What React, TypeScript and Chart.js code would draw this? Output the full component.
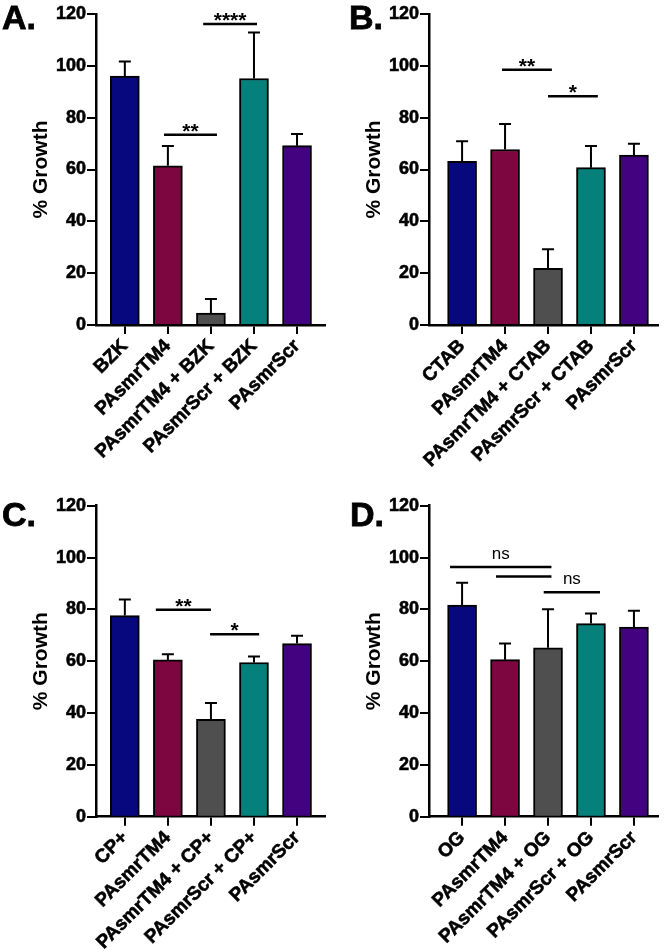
import React, { useEffect, useRef } from 'react';
import { Chart, registerables } from 'chart.js';

Chart.register(...registerables);

const FONT = '"Liberation Sans", Arial, Helvetica, sans-serif';

// ---- data ----
const colors = ['#08087e', '#7e0640', '#4f4f4f', '#06807b', '#43027f'];

const catsA = ['BZK', 'PAsmrTM4', 'PAsmrTM4 + BZK', 'PAsmrScr + BZK', 'PAsmrScr'];
const valsA = [96, 61.4, 4.6, 95.1, 69.2];
const errA = [5.7, 7.7, 5.4, 17.8, 4.5];
const sigA = [
  { from: 0.91, to: 2.14, y: 73.4, label: '**' },
  { from: 1.82, to: 3.07, y: 116.1, label: '****' },
];

const catsB = ['CTAB', 'PAsmrTM4', 'PAsmrTM4 + CTAB', 'PAsmrScr + CTAB', 'PAsmrScr'];
const valsB = [63.2, 67.7, 21.9, 60.7, 65.6];
const errB = [7.7, 9.9, 7.3, 8.4, 4.3];
const sigB = [
  { from: 0.93, to: 2.09, y: 98.5, label: '**' },
  { from: 2.0, to: 3.16, y: 88.3, label: '*' },
];

const catsC = ['CP+', 'PAsmrTM4', 'PAsmrTM4 + CP+', 'PAsmrScr + CP+', 'PAsmrScr'];
const valsC = [77.6, 60.5, 37.6, 59.5, 66.8];
const errC = [6.2, 2.2, 6.3, 2.3, 3.0];
const sigC = [
  { from: 0.72, to: 2.0, y: 79.9, label: '**' },
  { from: 1.98, to: 3.12, y: 70.4, label: '*' },
];

const catsD = ['OG', 'PAsmrTM4', 'PAsmrTM4 + OG', 'PAsmrScr + OG', 'PAsmrScr'];
const valsD = [81.7, 60.6, 65.2, 74.5, 73.2];
const errD = [8.6, 6.2, 14.8, 3.9, 6.3];
const sigD = [
  { from: -0.28, to: 2.08, y: 96.3, label: 'ns' },
  { from: 0.79, to: 2.08, y: 92.7, label: '' },
  { from: 1.9, to: 3.21, y: 86.6, label: 'ns' },
];

const yTicks = [0, 20, 40, 60, 80, 100, 120];

type Sig = { from: number; to: number; y: number; label: string };

type PanelProps = {
  letter: string;
  cats: string[];
  vals: number[];
  errs: number[];
  sigs: Sig[];
  xMin: number;
  xMax: number;
  top: number;
  bottom: number;
  letterX: number;
  letterY: number;
  left: number;
  pageTop: number;
};

const W = 333;
const H = 476;

function Panel(p: PanelProps) {
  const ref = useRef<HTMLCanvasElement>(null);
  useEffect(() => {
    if (!ref.current) return;
    const extras = {
      id: 'extras',
      afterDatasetsDraw(chart: any) {
        const { ctx } = chart;
        const x = chart.scales.x;
        const y = chart.scales.y;
        ctx.save();
        ctx.strokeStyle = '#000';
        ctx.fillStyle = '#000';
        ctx.lineWidth = 2;
        p.vals.forEach((v, i) => {
          const px = x.getPixelForValue(i);
          const y0 = y.getPixelForValue(v);
          const y1 = y.getPixelForValue(v + p.errs[i]);
          ctx.beginPath();
          ctx.moveTo(px, y0);
          ctx.lineTo(px, y1);
          ctx.moveTo(px - 6, y1);
          ctx.lineTo(px + 6, y1);
          ctx.stroke();
        });
        p.sigs.forEach((s) => {
          const x0 = x.getPixelForValue(s.from);
          const x1 = x.getPixelForValue(s.to);
          const py = y.getPixelForValue(s.y);
          ctx.lineWidth = 2.5;
          ctx.beginPath();
          ctx.moveTo(x0, py);
          ctx.lineTo(x1, py);
          ctx.stroke();
          if (s.label) {
            ctx.textAlign = 'center';
            ctx.textBaseline = 'alphabetic';
            if (s.label === 'ns') {
              ctx.font = `17px ${FONT}`;
              ctx.fillText(s.label, (x0 + x1) / 2, py - 8);
            } else {
              ctx.font = `bold 21px ${FONT}`;
              ctx.fillText(s.label, (x0 + x1) / 2, py + 3);
            }
          }
        });
        ctx.font = `bold 34px ${FONT}`;
        ctx.textAlign = 'left';
        ctx.textBaseline = 'alphabetic';
        ctx.lineWidth = 0.8;
        ctx.fillText(p.letter, p.letterX, p.letterY);
        ctx.strokeText(p.letter, p.letterX, p.letterY);
        ctx.restore();
      },
    };

    const yTickFont = { family: FONT, size: 18, weight: 'bold' as const };
    const xTickFont = { family: FONT, size: 19, weight: 'bold' as const };
    const chart = new Chart(ref.current, {
      type: 'bar',
      data: {
        datasets: [
          {
            data: p.vals.map((v, i) => ({ x: i, y: v })),
            backgroundColor: colors,
            borderColor: '#000',
            borderWidth: 2,
            barThickness: 29,
          } as any,
        ],
      },
      options: {
        animation: false,
        responsive: false,
        devicePixelRatio: 1,
        layout: { padding: { top: p.top, right: 8, left: 0, bottom: 0 } },
        plugins: { legend: { display: false }, tooltip: { enabled: false } },
        scales: {
          x: {
            type: 'linear',
            min: p.xMin,
            max: p.xMax,
            offset: false,
            afterBuildTicks: (s: any) => {
              s.ticks = p.cats.map((_, i) => ({ value: i }));
            },
            afterFit: (s: any) => {
              s.height = H - p.bottom;
            },
            grid: {
              display: true,
              drawOnChartArea: false,
              drawTicks: true,
              tickLength: 9,
              color: '#000',
              lineWidth: 2,
              offset: false,
            },
            border: { display: true, color: '#000', width: 2.5 },
            ticks: {
              autoSkip: false,
              maxRotation: 45,
              minRotation: 45,
              padding: 1,
              color: '#000',
              textStrokeColor: '#000',
              textStrokeWidth: 0.6,
              font: xTickFont,
              callback: (v: any) => p.cats[Number(v)] ?? '',
            },
          } as any,
          y: {
            min: 0,
            max: 120,
            afterBuildTicks: (s: any) => {
              s.ticks = yTicks.map((v) => ({ value: v }));
            },
            afterFit: (s: any) => {
              s.width = 96;
            },
            grid: {
              display: true,
              drawOnChartArea: false,
              drawTicks: true,
              tickLength: 9,
              color: '#000',
              lineWidth: 2,
            },
            border: { display: true, color: '#000', width: 2.5 },
            ticks: {
              padding: 1,
              color: '#000',
              textStrokeColor: '#000',
              textStrokeWidth: 0.6,
              font: yTickFont,
            },
            title: {
              display: true,
              text: '% Growth',
              color: '#000',
              font: { family: FONT, size: 21, weight: 'bold' },
              padding: { top: 29, bottom: 0 },
            },
          } as any,
        },
      },
      plugins: [extras],
    });
    return () => chart.destroy();
  }, []);
  return (
    <div style={{ position: 'absolute', left: p.left, top: p.pageTop, width: W, height: H }}>
      <canvas ref={ref} width={W} height={H} style={{ display: 'block', width: W, height: H }} />
    </div>
  );
}

export default function App() {
  return (
    <div style={{ position: 'absolute', left: 0, top: 0, width: 666, height: 952, background: '#fff' }}>
      <Panel letter="A." cats={catsA} vals={valsA} errs={errA} sigs={sigA} xMin={-0.67} xMax={4.65}
        top={14} bottom={325} letterX={2} letterY={29} left={0} pageTop={0} />
      <Panel letter="B." cats={catsB} vals={valsB} errs={errB} sigs={sigB} xMin={-0.77} xMax={4.56}
        top={14} bottom={325} letterX={16} letterY={29} left={333} pageTop={0} />
      <Panel letter="C." cats={catsC} vals={valsC} errs={errC} sigs={sigC} xMin={-0.67} xMax={4.65}
        top={29.7} bottom={340.7} letterX={2} letterY={50} left={0} pageTop={476} />
      <Panel letter="D." cats={catsD} vals={valsD} errs={errD} sigs={sigD} xMin={-0.77} xMax={4.56}
        top={29.7} bottom={340.7} letterX={17} letterY={50} left={333} pageTop={476} />
    </div>
  );
}
